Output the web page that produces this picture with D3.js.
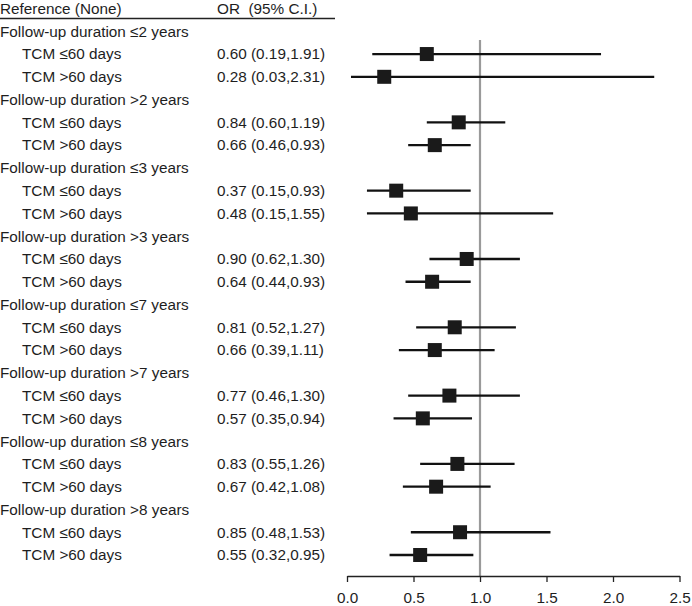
<!DOCTYPE html>
<html><head><meta charset="utf-8">
<script src="https://cdn.jsdelivr.net/npm/d3@7"></script>
<style>body{margin:0;background:#fff}svg{display:block}text{font-family:"Liberation Sans",Arial,sans-serif;font-size:15.3px;fill:#1e1e1e}</style>
</head><body><div id="c"></div>
<script>
const groups = ["Follow-up duration \u22642 years","Follow-up duration >2 years","Follow-up duration \u22643 years","Follow-up duration >3 years","Follow-up duration \u22647 years","Follow-up duration >7 years","Follow-up duration \u22648 years","Follow-up duration >8 years"];
const subLabels = ["TCM \u226460 days","TCM >60 days"];
const orValues = [0.60,0.28, 0.84,0.66, 0.37,0.48, 0.90,0.64, 0.81,0.66, 0.77,0.57, 0.83,0.67, 0.85,0.55];
const lowerCI = [0.19,0.03, 0.60,0.46, 0.15,0.15, 0.62,0.44, 0.52,0.39, 0.46,0.35, 0.55,0.42, 0.48,0.32];
const upperCI = [1.91,2.31, 1.19,0.93, 0.93,1.55, 1.30,0.93, 1.27,1.11, 1.30,0.94, 1.26,1.08, 1.53,0.95];
const xTicks = [0,0.5,1.0,1.5,2.0,2.5];

const W=692,H=606;
const svg=d3.select("#c").append("svg").attr("width",W).attr("height",H);
const x=d3.scaleLinear().domain([0,2.5]).range([347,679.5]);
const y=d3.scaleLinear().domain([-1,23]).range([8.5,555]);
const fmt=d3.format(".2f");

// header
svg.append("text").attr("x",0).attr("y",y(-1)).attr("dy","0.35em").text("Reference (None)");
svg.append("text").attr("x",217).attr("y",y(-1)).attr("dy","0.35em").attr("xml:space","preserve").style("white-space","pre").text("OR  (95% C.I.)");
svg.append("line").attr("x1",0).attr("x2",335).attr("y1",18.5).attr("y2",18.5).attr("stroke","#222").attr("stroke-width",1.3);

// reference line
svg.append("line").attr("x1",x(1)).attr("x2",x(1)).attr("y1",40).attr("y2",576).attr("stroke","#9a9a9a").attr("stroke-width",2.2);

const rows=[];
groups.forEach((g,gi)=>{
  svg.append("text").attr("x",0).attr("y",y(gi*3)).attr("dy","0.35em").text(g);
  subLabels.forEach((s,si)=>{
    const i=gi*2+si;
    rows.push({label:s,idx:gi*3+si+1,or:orValues[i],lo:lowerCI[i],hi:upperCI[i]});
  });
});
const r=svg.selectAll("g.row").data(rows).enter().append("g").attr("class","row");
r.append("text").attr("x",22).attr("y",d=>y(d.idx)).attr("dy","0.35em").text(d=>d.label);
r.append("text").attr("x",217).attr("y",d=>y(d.idx)).attr("dy","0.35em").text(d=>`${fmt(d.or)} (${fmt(d.lo)},${fmt(d.hi)})`);
r.append("line").attr("x1",d=>x(d.lo)).attr("x2",d=>x(d.hi)).attr("y1",d=>y(d.idx)).attr("y2",d=>y(d.idx)).attr("stroke","#111").attr("stroke-width",2.3);
r.append("rect").attr("x",d=>x(d.or)-7).attr("y",d=>y(d.idx)-7).attr("width",14).attr("height",14).attr("fill","#1a1a1a");

// axis
const ax=svg.append("g").attr("transform","translate(0,576)").call(d3.axisBottom(x).tickValues(xTicks).tickFormat(d3.format(".1f")).tickSize(6).tickSizeOuter(0).tickPadding(10));
ax.select(".domain").attr("stroke","#222").attr("stroke-width",1.3);
ax.selectAll(".tick line").attr("stroke","#222").attr("stroke-width",1.3);
ax.selectAll("text").attr("font-family","Liberation Sans, Arial, sans-serif").attr("font-size","15.3px").attr("fill","#1e1e1e");
</script></body></html>
